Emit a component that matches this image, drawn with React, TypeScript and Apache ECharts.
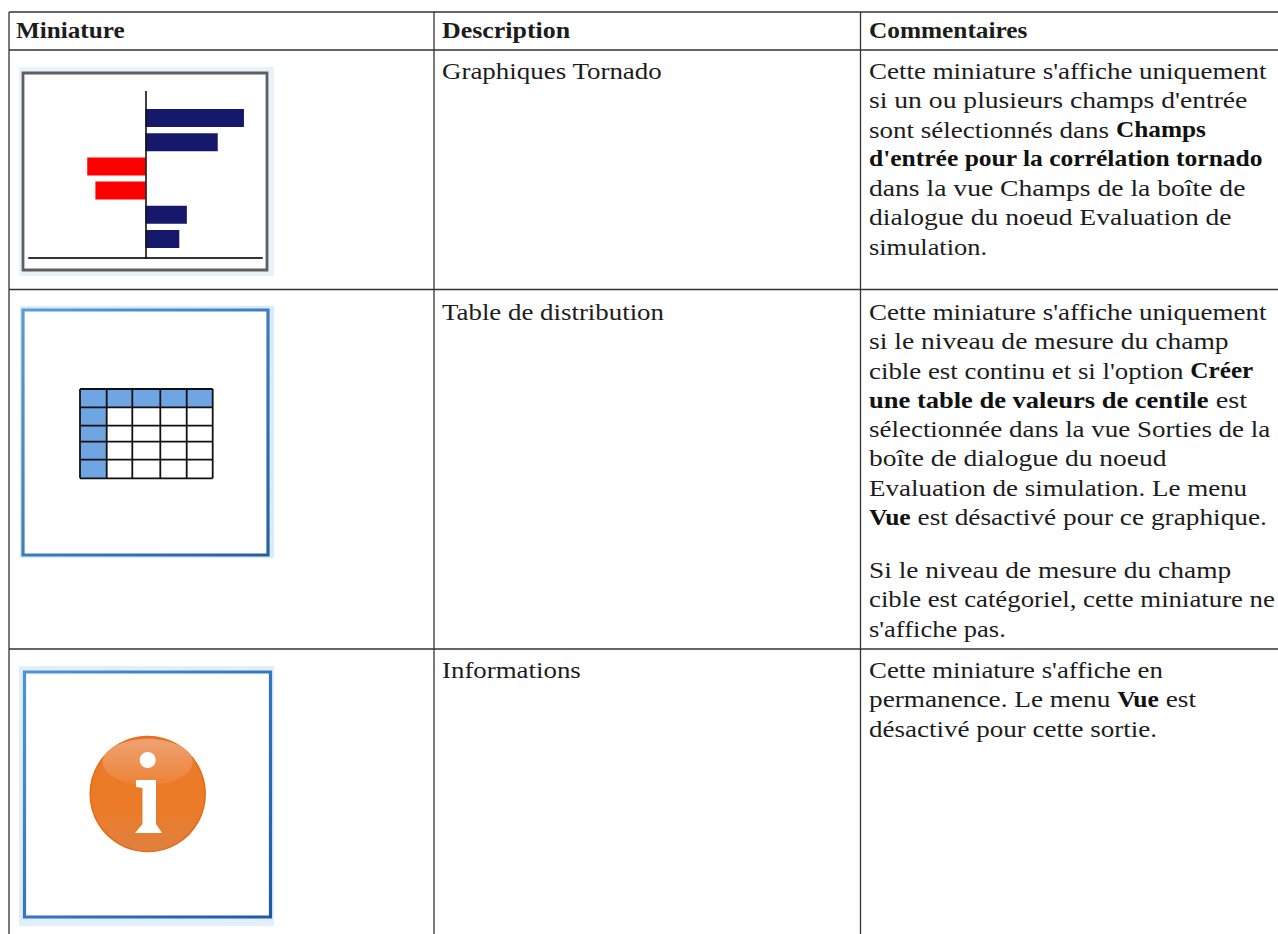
import React, { useEffect, useRef } from "react";
import * as echarts from "echarts";

const headers = ["Miniature", "Description", "Commentaires"];
const descriptions = ["Graphiques Tornado", "Table de distribution", "Informations"];
const commentsTornado = [
  "Cette miniature s'affiche uniquement",
  "si un ou plusieurs champs d'entrée",
  "sont sélectionnés dans {b|Champs}",
  "{b|d'entrée pour la corrélation tornado}",
  "dans la vue Champs de la boîte de",
  "dialogue du noeud Evaluation de",
  "simulation.",
];
const commentsTable = [
  "Cette miniature s'affiche uniquement",
  "si le niveau de mesure du champ",
  "cible est continu et si l'option {b|Créer}",
  "{b|une table de valeurs de centile} est",
  "sélectionnée dans la vue Sorties de la",
  "boîte de dialogue du noeud",
  "Evaluation de simulation. Le menu",
  "{b|Vue} est désactivé pour ce graphique.",
];
const commentsTable2 = [
  "Si le niveau de mesure du champ",
  "cible est catégoriel, cette miniature ne",
  "s'affiche pas.",
];
const commentsInfo = [
  "Cette miniature s'affiche en",
  "permanence. Le menu {b|Vue} est",
  "désactivé pour cette sortie.",
];

const tornadoCategories = ["A", "B", "C", "D", "E", "F"];
const tornadoValues = [84.5, 62, -50, -43, 35.5, 29];

const SERIF = '"Liberation Serif"';
const SIZE = 24;
const FONT = `${SIZE}px ${SERIF}`;
const BOLD = `bold ${SIZE}px ${SERIF}`;
const BOLD_MIXED = `bold 22.5px ${SERIF}`;
const INK = "#1c1c1c";
const LINE = "#333333";

// Horizontal stretch of each line, so that the substitute serif fills the original's measure.
const headerFit = [1.05, 1.08, 1.055];
const descriptionFit = [1.123, 1.12, 1.12];
const tornadoFit = [1.124, 1.151, 1.126, 1.135, 1.151, 1.148, 1.1];
const tableFit = [1.124, 1.149, 1.12, 1.179, 1.124, 1.145, 1.124, 1.138];
const table2Fit = [1.142, 1.116, 1.105];
const infoFit = [1.117, 1.136, 1.126];

function textEl(text: string, x: number, y: number, fit: number, bold = false) {
  const mixed = text.includes("{b|");
  return {
    type: "text",
    x,
    y,
    z: 10,
    scaleX: fit,
    style: {
      text,
      font: bold ? BOLD : FONT,
      fill: INK,
      verticalAlign: "middle",
      align: "left",
      ...(mixed ? { rich: { b: { font: BOLD_MIXED, fill: "#111111" } } } : {}),
    },
  };
}

function lineEl(x1: number, y1: number, x2: number, y2: number, stroke = LINE, lineWidth = 1.3, z = 1) {
  return { type: "line", z, shape: { x1, y1, x2, y2 }, style: { stroke, lineWidth } };
}

function frame(x: number, y: number, w: number, h: number, gx: number, gy: number, gw: number, gh: number, stroke: any, glow: string, lw = 3.2) {
  return [
    { type: "rect", z: 0, shape: { x: gx, y: gy, width: gw, height: gh }, style: { fill: glow } },
    { type: "rect", z: 0, shape: { x, y, width: w, height: h }, style: { fill: "#ffffff", stroke, lineWidth: lw } },
  ];
}

function miniTable() {
  const xs = [80, 106.7, 132.3, 160.3, 186.7, 212.7];
  const ys = [389, 407.3, 425.7, 441.7, 459.7, 478.3];
  const els: any[] = [];
  els.push({ type: "rect", z: 1, shape: { x: xs[0], y: ys[0], width: xs[5] - xs[0], height: ys[1] - ys[0] }, style: { fill: "#6fa5e2" } });
  els.push({ type: "rect", z: 1, shape: { x: xs[0], y: ys[0], width: xs[1] - xs[0], height: ys[5] - ys[0] }, style: { fill: "#6fa5e2" } });
  xs.forEach((x) => els.push(lineEl(x, ys[0], x, ys[5], "#111111", 1.8, 2)));
  ys.forEach((y) => els.push(lineEl(xs[0], y, xs[5], y, "#111111", 1.8, 2)));
  return els;
}

function infoIcon() {
  const cx = 147.7;
  const cy = 794;
  return [
    {
      type: "circle",
      z: 1,
      shape: { cx, cy, r: 57.5 },
      style: {
        fill: new echarts.graphic.LinearGradient(0, 0, 0, 1, [
          { offset: 0, color: "#ea7a2a" },
          { offset: 0.6, color: "#ec7b26" },
          { offset: 1, color: "#e08040" },
        ]),
        stroke: "#e56b18",
        lineWidth: 1.5,
      },
    },
    {
      type: "ellipse",
      z: 2,
      shape: { cx, cy: 762, rx: 45, ry: 23 },
      style: {
        fill: new echarts.graphic.LinearGradient(0, 0, 0, 1, [
          { offset: 0, color: "#efa273" },
          { offset: 1, color: "#ed8236" },
        ]),
      },
    },
    { type: "circle", z: 3, shape: { cx, cy: 760, r: 8 }, style: { fill: "#ffffff" } },
    {
      type: "polygon",
      z: 3,
      shape: {
        points: [
          [136, 780], [156, 780], [156, 824], [162, 833], [135, 833], [142.5, 824], [142.5, 788], [136, 787],
        ],
      },
      style: { fill: "#ffffff" },
    },
  ];
}

function buildGraphic() {
  const els: any[] = [];
  const hY = [12, 50, 289.5, 649];
  hY.forEach((y) => els.push(lineEl(9, y, 1278, y)));
  [9, 434, 860.5].forEach((x) => els.push(lineEl(x, 12, x, 934)));

  const headerX = [16, 442, 869];
  headers.forEach((h, i) => els.push(textEl(h, headerX[i], 30, headerFit[i], true)));
  const rowY = [71, 312, 670];
  descriptions.forEach((d, i) => els.push(textEl(d, 442, rowY[i], descriptionFit[i])));

  const step = 29.3;
  commentsTornado.forEach((t, i) => els.push(textEl(t, 869, 71 + i * step, tornadoFit[i])));
  commentsTable.forEach((t, i) => els.push(textEl(t, 869, 312 + i * step, tableFit[i])));
  commentsTable2.forEach((t, i) => els.push(textEl(t, 869, 570 + i * step, table2Fit[i])));
  commentsInfo.forEach((t, i) => els.push(textEl(t, 869, 670 + i * step, infoFit[i])));

  els.push(...frame(23, 73, 244, 197, 19, 67, 255, 209, "#5f5f5f", "#e8f2fb", 2.8));
  els.push(lineEl(146, 91, 146, 259, "#111111", 1.6, 5));

  els.push(...frame(23, 310, 245, 245, 20, 306, 254, 252,
    new echarts.graphic.LinearGradient(0, 0, 1, 1, [
      { offset: 0, color: "#5c9ad6" },
      { offset: 1, color: "#255f9e" },
    ]), "#d7edfb"));
  els.push(...miniTable());

  els.push(...frame(24.5, 672, 246, 245, 19, 666, 255, 260,
    new echarts.graphic.LinearGradient(0, 0, 1, 1, [
      { offset: 0, color: "#4d93dc" },
      { offset: 1, color: "#1c5aa6" },
    ]), "#e2effa"));
  els.push(...infoIcon());
  return els;
}

export default function App() {
  const ref = useRef<HTMLDivElement>(null);
  useEffect(() => {
    document.body.style.margin = "0";
    const chart = echarts.init(ref.current!, null, { renderer: "svg" });
    chart.setOption({
      animation: false,
      backgroundColor: "#ffffff",
      grid: { left: 29, top: 106, width: 233, height: 145, containLabel: false },
      xAxis: {
        type: "value",
        min: -100,
        max: 100,
        position: "bottom",
        offset: 7,
        axisLine: { show: true, onZero: false, lineStyle: { color: "#333333", width: 2 } },
        axisTick: { show: false },
        axisLabel: { show: false },
        splitLine: { show: false },
      },
      yAxis: {
        type: "category",
        inverse: true,
        data: tornadoCategories,
        axisLine: { show: false },
        axisTick: { show: false },
        axisLabel: { show: false },
      },
      series: [
        {
          type: "bar",
          barWidth: 18,
          z: 3,
          data: tornadoValues.map((v) => ({
            value: v,
            itemStyle: { color: v < 0 ? "#ff0000" : "#15186b" },
          })),
        },
      ],
      graphic: { elements: buildGraphic() },
    });
    return () => chart.dispose();
  }, []);
  return <div ref={ref} style={{ position: "fixed", left: 0, top: 0, width: 1278, height: 934 }} />;
}
